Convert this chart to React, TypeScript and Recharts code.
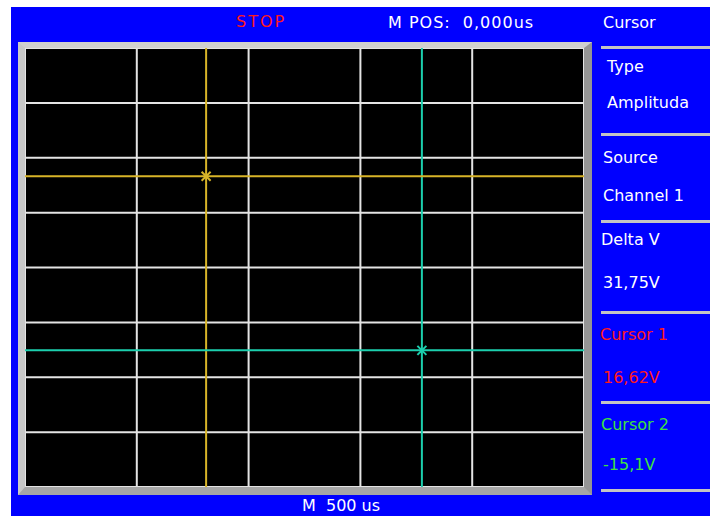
import { ComposedChart, CartesianGrid, XAxis, YAxis, ReferenceLine, Scatter } from "recharts";

// horizontal: 5 divisions of 500 us, vertical: 8 divisions of 10 V
const timeDomain = [-1250, 1250];
const voltDomain = [-40, 40];
const timeTicks = [-750, -250, 250, 750];
const voltTicks = [-30, -20, -10, 0, 10, 20, 30];

const cursorNames = ["Cursor 1", "Cursor 2"];
const cursorTimes = [-440, 525];
const cursorVolts = [16.62, -15.1];
const cursorColors = ["#d8b428", "#1ccfae"];

const menuItems = [
  { title: "Type", value: "Amplituda", color: "#ffffff" },
  { title: "Source", value: "Channel 1", color: "#ffffff" },
  { title: "Delta V", value: "31,75V", color: "#ffffff" },
  { title: "Cursor 1", value: "16,62V", color: "#ff1a1a" },
  { title: "Cursor 2", value: "-15,1V", color: "#3ee03e" },
];

const font = '"DejaVu Sans", sans-serif';

const Cross = (props: any) => {
  const { cx, cy, fill } = props;
  return (
    <g stroke={fill} strokeWidth={2}>
      <line x1={cx - 4.5} y1={cy - 4.5} x2={cx + 4.5} y2={cy + 4.5} />
      <line x1={cx - 4.5} y1={cy + 4.5} x2={cx + 4.5} y2={cy - 4.5} />
    </g>
  );
};

function Label({ text, x, cy, color, spacing = 0 }: { text: string; x: number; cy: number; color: string; spacing?: number }) {
  return (
    <div
      style={{
        position: "absolute",
        left: x,
        top: cy - 8,
        fontFamily: font,
        fontSize: 16,
        lineHeight: "16px",
        letterSpacing: spacing,
        color,
        whiteSpace: "pre",
      }}
    >
      {text}
    </div>
  );
}

const titleY = [67, 158, 240, 335, 425];
const valueY = [103, 196, 283, 378, 465];
const titleX = [607, 603, 601, 600, 601];
const valueX = [607, 603, 603, 603, 603];
const lineY = [46, 133, 220, 311, 401, 489];

export default function App() {
  return (
    <div style={{ position: "fixed", left: 0, top: 0, width: 710, height: 516, background: "#fff", overflow: "hidden" }}>
      <div style={{ position: "absolute", left: 11, top: 7, right: 0, bottom: 0, background: "#0000ff" }} />

      <Label text="STOP" x={236} cy={22} color="#ff1a1a" spacing={2} />
      <Label text="M POS:  0,000us" x={388} cy={23} color="#ffffff" spacing={1} />
      <Label text="Cursor" x={603} cy={23} color="#ffffff" />
      <Label text="M  500 us" x={302} cy={506} color="#ffffff" />

      {menuItems.map((m, i) => (
        <div key={m.title}>
          <Label text={m.title} x={titleX[i]} cy={titleY[i]} color={m.color} />
          <Label text={m.value} x={valueX[i]} cy={valueY[i]} color={m.color} />
        </div>
      ))}
      {lineY.map((y) => (
        <div key={y} style={{ position: "absolute", left: 601, top: y, width: 109, height: 3, background: "#c4c4c4" }} />
      ))}

      <div
        style={{
          position: "absolute",
          left: 18,
          top: 42,
          width: 574,
          height: 453,
          boxSizing: "border-box",
          borderStyle: "solid",
          borderWidth: "6px 8px 8px 7px",
          borderColor: "#cfcfcf #959595 #a6a6a6 #c8c8c8",
          background: "#000",
        }}
      >
        <ComposedChart width={559} height={439} margin={{ top: 0, right: 0, bottom: 0, left: 0 }}>
          <XAxis type="number" dataKey="t" domain={timeDomain} ticks={timeTicks} hide allowDataOverflow />
          <YAxis type="number" dataKey="v" domain={voltDomain} ticks={voltTicks} hide allowDataOverflow />
          <CartesianGrid stroke="#e4e4e4" strokeWidth={2} />
          {cursorNames.map((name, i) => (
            <ReferenceLine key={name + "x"} x={cursorTimes[i]} stroke={cursorColors[i]} strokeWidth={2} />
          ))}
          {cursorNames.map((name, i) => (
            <ReferenceLine key={name + "y"} y={cursorVolts[i]} stroke={cursorColors[i]} strokeWidth={2} />
          ))}
          {cursorNames.map((name, i) => (
            <Scatter
              key={name}
              name={name}
              data={[{ t: cursorTimes[i], v: cursorVolts[i] }]}
              fill={cursorColors[i]}
              shape={Cross}
              isAnimationActive={false}
            />
          ))}
        </ComposedChart>
      </div>
    </div>
  );
}
